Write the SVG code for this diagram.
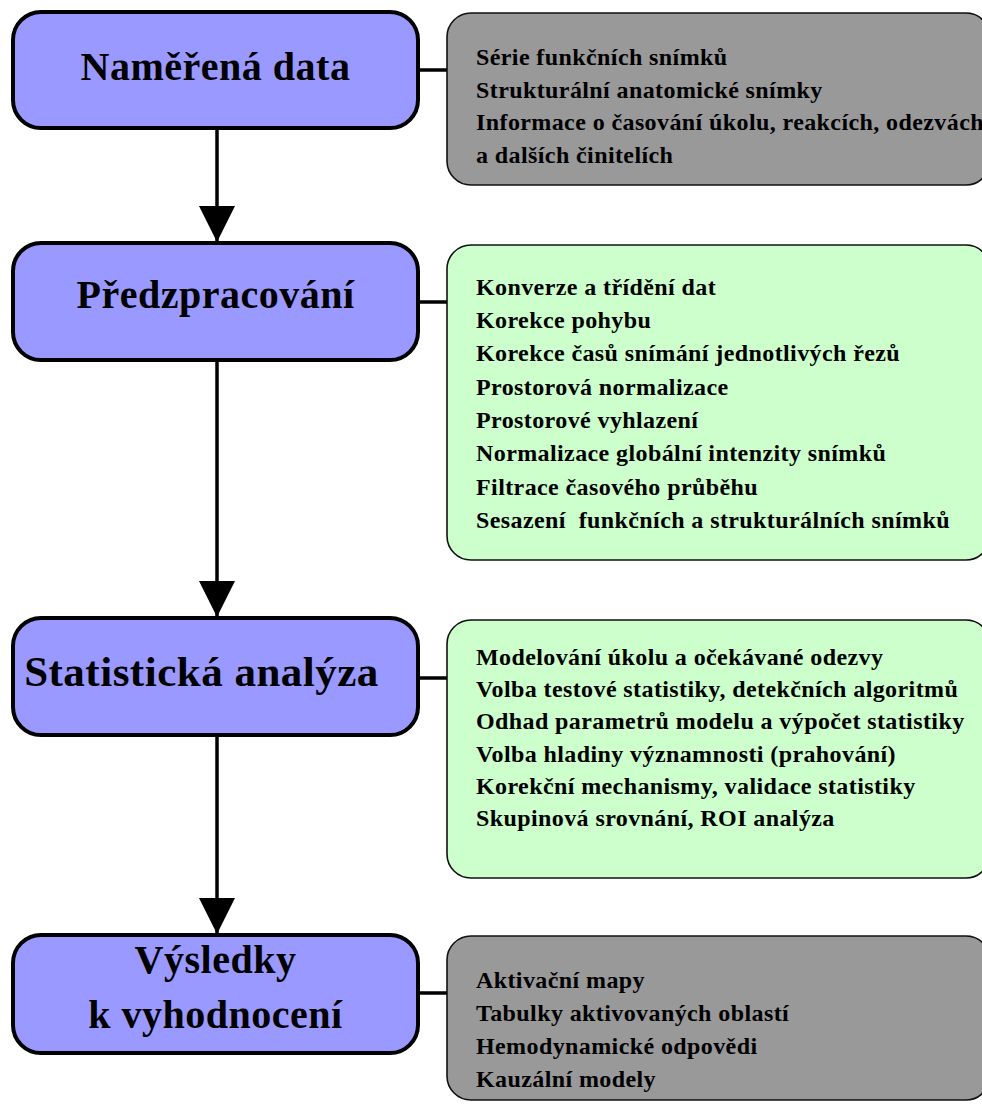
<svg xmlns="http://www.w3.org/2000/svg" width="982" height="1104" viewBox="0 0 982 1104">
<style>
.step{fill:#9999FF;stroke:#000;stroke-width:4}
.gray{fill:#999999;stroke:#111;stroke-width:1.6}
.green{fill:#CCFFCC;stroke:#111;stroke-width:1.6}
.title{font-family:"Liberation Serif","Times New Roman",serif;font-weight:bold;font-size:40px;fill:#000;text-anchor:middle;letter-spacing:0.5px}
.item{font-family:"Liberation Serif","Times New Roman",serif;font-weight:bold;font-size:24px;fill:#000;letter-spacing:0.4px}
.line{stroke:#000;stroke-width:3.5;fill:none}
</style>
<defs>
<marker id="arrow" markerUnits="userSpaceOnUse" markerWidth="40" markerHeight="36" refX="38" refY="19" orient="auto" viewBox="0 0 40 38">
<path d="M0,0 L38,19 L0,38 Z" fill="#000"/>
</marker>
</defs>
<g id="connectors">
<line class="line" x1="217" y1="128" x2="217" y2="242" marker-end="url(#arrow)"/>
<line class="line" x1="217" y1="360" x2="217" y2="617" marker-end="url(#arrow)"/>
<line class="line" x1="217" y1="735" x2="217" y2="934" marker-end="url(#arrow)"/>
<line class="line" x1="418" y1="70" x2="447" y2="70"/>
<line class="line" x1="418" y1="302" x2="447" y2="302"/>
<line class="line" x1="418" y1="678" x2="447" y2="678"/>
<line class="line" x1="418" y1="993" x2="447" y2="993"/>
</g>
<g id="node-namerena">
<rect class="step" x="13" y="12" width="405" height="116" rx="28"/>
<text class="title" x="215.5" y="80">Naměřená data</text>
</g>
<g id="node-predzpracovani">
<rect class="step" x="13" y="243" width="405" height="117" rx="28"/>
<text class="title" x="215.5" y="308">Předzpracování</text>
</g>
<g id="node-statisticka">
<rect class="step" x="13" y="618" width="405" height="117" rx="28"/>
<text class="title" x="201.5" y="686" style="font-size:43px">Statistická analýza</text>
</g>
<g id="node-vysledky">
<rect class="step" x="13" y="935" width="405" height="118" rx="28"/>
<text class="title" x="215.5" y="973">Výsledky</text>
<text class="title" x="215.5" y="1028">k vyhodnocení</text>
</g>
<g id="node-data-detail">
<rect class="gray" x="447" y="13" width="543" height="172" rx="24"/>
<text class="item" x="476" y="65">Série funkčních snímků</text>
<text class="item" x="476" y="98">Strukturální anatomické snímky</text>
<text class="item" x="476" y="130">Informace o časování úkolu, reakcích, odezvách</text>
<text class="item" x="476" y="163">a dalších činitelích</text>
</g>
<g id="node-preproc-detail">
<rect class="green" x="447" y="245" width="543" height="315" rx="24"/>
<text class="item" x="476" y="295">Konverze a třídění dat</text>
<text class="item" x="476" y="328">Korekce pohybu</text>
<text class="item" x="476" y="361">Korekce časů snímání jednotlivých řezů</text>
<text class="item" x="476" y="395">Prostorová normalizace</text>
<text class="item" x="476" y="428">Prostorové vyhlazení</text>
<text class="item" x="476" y="461">Normalizace globální intenzity snímků</text>
<text class="item" x="476" y="495">Filtrace časového průběhu</text>
<text class="item" x="476" y="528" xml:space="preserve">Sesazení  funkčních a strukturálních snímků</text>
</g>
<g id="node-stat-detail">
<rect class="green" x="447" y="620" width="543" height="258" rx="24"/>
<text class="item" x="476" y="665">Modelování úkolu a očekávané odezvy</text>
<text class="item" x="476" y="697">Volba testové statistiky, detekčních algoritmů</text>
<text class="item" x="476" y="729">Odhad parametrů modelu a výpočet statistiky</text>
<text class="item" x="476" y="762">Volba hladiny významnosti (prahování)</text>
<text class="item" x="476" y="794">Korekční mechanismy, validace statistiky</text>
<text class="item" x="476" y="826">Skupinová srovnání, ROI analýza</text>
</g>
<g id="node-results-detail">
<rect class="gray" x="447" y="936" width="543" height="164" rx="24"/>
<text class="item" x="476" y="988">Aktivační mapy</text>
<text class="item" x="476" y="1021">Tabulky aktivovaných oblastí</text>
<text class="item" x="476" y="1054">Hemodynamické odpovědi</text>
<text class="item" x="476" y="1087">Kauzální modely</text>
</g>
</svg>
